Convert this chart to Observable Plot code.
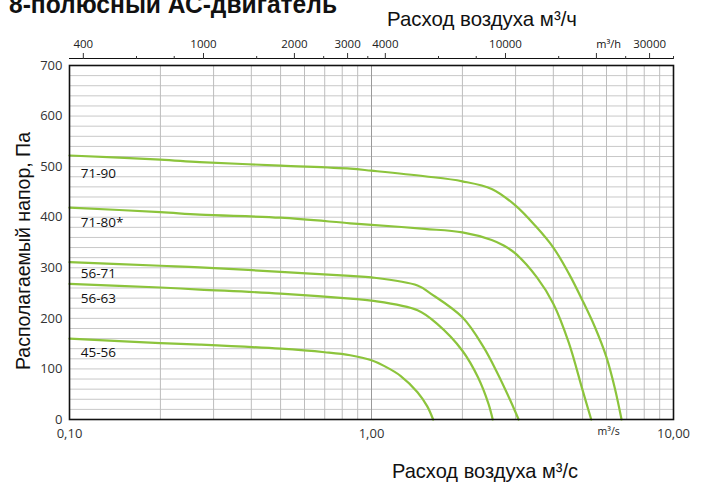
<!DOCTYPE html>
<html>
<head>
<meta charset="utf-8">
<script src="https://cdn.jsdelivr.net/npm/d3@7"></script>
<script src="https://cdn.jsdelivr.net/npm/@observablehq/plot@0.6"></script>
<style>
  html, body { margin: 0; padding: 0; background: #fff; }
  #chart { width: 707px; height: 486px; overflow: hidden; position: relative; }
</style>
</head>
<body>
<div id="chart"></div>
<script>
// ---- data ----
const seriesNames = ["71-90", "71-80*", "56-71", "56-63", "45-56"];

const flow_71_90 = [0.10, 0.20, 0.27, 0.50, 0.85, 1.00, 1.50, 2.00, 2.50, 3.00, 3.50, 4.00, 4.50, 5.00, 5.50, 6.00, 6.40, 6.73];
const pres_71_90 = [522, 514, 509, 502, 496, 492, 481, 471, 456, 423, 382, 340, 289, 235, 182, 123, 61, 0];

const flow_71_80 = [0.10, 0.20, 0.27, 0.50, 0.85, 1.00, 1.50, 2.00, 2.50, 2.74, 3.00, 3.53, 4.00, 4.50, 5.00, 5.34];
const pres_71_80 = [419, 410, 405, 399, 388, 385, 377, 370, 355, 344, 328, 281, 229, 152, 58, 0];

const flow_56_71 = [0.10, 0.20, 0.27, 0.50, 0.85, 1.00, 1.42, 1.57, 2.00, 2.35, 2.62, 2.88, 3.07];
const pres_56_71 = [311, 304, 301, 292, 284, 281, 265, 249, 202, 143, 90, 38, 0];

const flow_56_63 = [0.10, 0.20, 0.27, 0.50, 0.85, 1.00, 1.42, 1.65, 2.00, 2.25, 2.44, 2.52];
const pres_56_63 = [268, 261, 257, 249, 239, 235, 216, 189, 136, 84, 31, 0];

const flow_45_56 = [0.10, 0.20, 0.27, 0.50, 0.70, 0.85, 1.00, 1.10, 1.25, 1.42, 1.53, 1.60];
const pres_45_56 = [160, 151, 148, 140, 133, 127, 117, 106, 86, 54, 26, 0];

const labelPressure = [486, 390, 289, 239, 132];
const labelFlow = 0.109;

const yTicks = [0, 100, 200, 300, 400, 500, 600, 700];
const yGrid = [20, 40, 60, 80, 100, 120, 140, 160, 180, 200, 220, 240, 260, 280, 300, 320, 340, 360, 380, 400, 420, 440, 460, 480, 500, 520, 540, 560, 580, 600, 620, 640, 660, 680];
const xGrid = [0.2, 0.3, 0.4, 0.5, 0.6, 0.7, 0.8, 0.9, 1, 2, 3, 4, 5, 6, 7, 8, 9];
const xTicks = [0.1, 1, 10];
const xTickLabels = ["0,10", "1,00", "10,00"];

// top axis in m³/h
const topMajor = [400, 1000, 2000, 3000, 4000, 10000, 20000, 30000];
const topMajorLabels = ["400", "1000", "2000", "3000", "4000", "10000", "", "30000"];
const topMinor = [600, 800, 1500, 2500, 3500, 6000, 8000, 15000, 25000, 36000];
const unitFlow = 6.1; // position of the unit labels (m³/s)

// ---- tables ----
const flows = [flow_71_90, flow_71_80, flow_56_71, flow_56_63, flow_45_56];
const pressures = [pres_71_90, pres_71_80, pres_56_71, pres_56_63, pres_45_56];
const curves = [];
seriesNames.forEach((name, s) => {
  flows[s].forEach((q, i) => curves.push({series: name, q, p: pressures[s][i]}));
});
const labels = seriesNames.map((name, s) => ({name, q: labelFlow, p: labelPressure[s]}));
const bottomLabels = xTicks.map((q, i) => ({q, t: xTickLabels[i]}));
const topMajorQ = topMajor.map(v => v / 3600);
const topLabels = topMajor.map((v, i) => ({q: v / 3600, t: topMajorLabels[i]}));
const topMinorQ = topMinor.map(v => v / 3600);

const green = "#8cc43c";

const chart = Plot.plot({
  width: 707,
  height: 486,
  marginLeft: 69,
  marginRight: 34,
  marginTop: 65,
  marginBottom: 67,
  x: {type: "log", domain: [0.1, 10]},
  y: {domain: [0, 700]},
  style: {fontFamily: "'Open Sans', sans-serif", fontSize: "13px", color: "#333", background: "#fff"},
  marks: [
    Plot.ruleY(yGrid, {stroke: "#c8c8c8", strokeWidth: 1}),
    Plot.ruleX(xGrid, {stroke: "#bdbdbd", strokeWidth: 1}),
    Plot.ruleX([1], {stroke: "#9a9a9a", strokeWidth: 1}),
    Plot.line(curves, {x: "q", y: "p", z: "series", stroke: green, strokeWidth: 2.2, curve: "catmull-rom"}),
    Plot.text(labels, {x: "q", y: "p", text: "name", textAnchor: "start", fontSize: 13.5, fill: "#111"}),
    Plot.frame({stroke: "#111", strokeWidth: 1.6}),
    Plot.axisY(yTicks, {anchor: "left", tickSize: 0, tickPadding: 7, label: null, fontSize: 13, fill: "#333"}),
    Plot.text(bottomLabels, {x: "q", text: "t", frameAnchor: "bottom", dy: 9, lineAnchor: "top", fontSize: 13, fill: "#333"}),
    Plot.text([{q: unitFlow, t: "m³/s"}], {x: "q", text: "t", frameAnchor: "bottom", dy: 15, fontSize: 10.5, fill: "#222"}),
    // top axis (m³/h)
    Plot.ruleY([700], {dy: -7, stroke: "#111", strokeWidth: 1.2}),
    Plot.axisX(topMajorQ, {anchor: "top", dy: -7, tickSize: 6, label: null, tickFormat: () => ""}),
    Plot.axisX(topMinorQ, {anchor: "top", dy: -7, tickSize: 3, label: null, tickFormat: () => ""}),
    Plot.text(topLabels, {x: "q", text: "t", frameAnchor: "top", dy: -18, lineAnchor: "bottom", fontSize: 11.5, fill: "#222"}),
    Plot.text([{q: unitFlow, t: "m³/h"}], {x: "q", text: "t", frameAnchor: "top", dy: -18, lineAnchor: "bottom", fontSize: 11, fill: "#111"})
  ]
});

document.getElementById("chart").appendChild(chart);

// titles
const svg = d3.select(chart);
const addTitle = (x, y, size, weight, len, str, transform) => {
  const t = svg.append("text")
    .attr("text-anchor", "start")
    .attr("font-family", "'Liberation Sans', Arial, sans-serif")
    .attr("font-weight", weight).attr("font-size", size)
    .attr("textLength", len).attr("lengthAdjust", "spacingAndGlyphs")
    .attr("fill", "#111")
    .text(str);
  if (transform) t.attr("transform", transform);
  else t.attr("x", x).attr("y", y);
  return t;
};
addTitle(9, 13, 26, "bold", 328, "8-полюсный АС-двигатель");
addTitle(387, 26, 21, "normal", 190, "Расход воздуха м³/ч");
addTitle(392, 478, 21, "normal", 186, "Расход воздуха м³/с");
addTitle(0, 0, 20, "normal", 238, "Располагаемый напор, Па", "translate(30,370) rotate(-90)");
</script>
</body>
</html>
